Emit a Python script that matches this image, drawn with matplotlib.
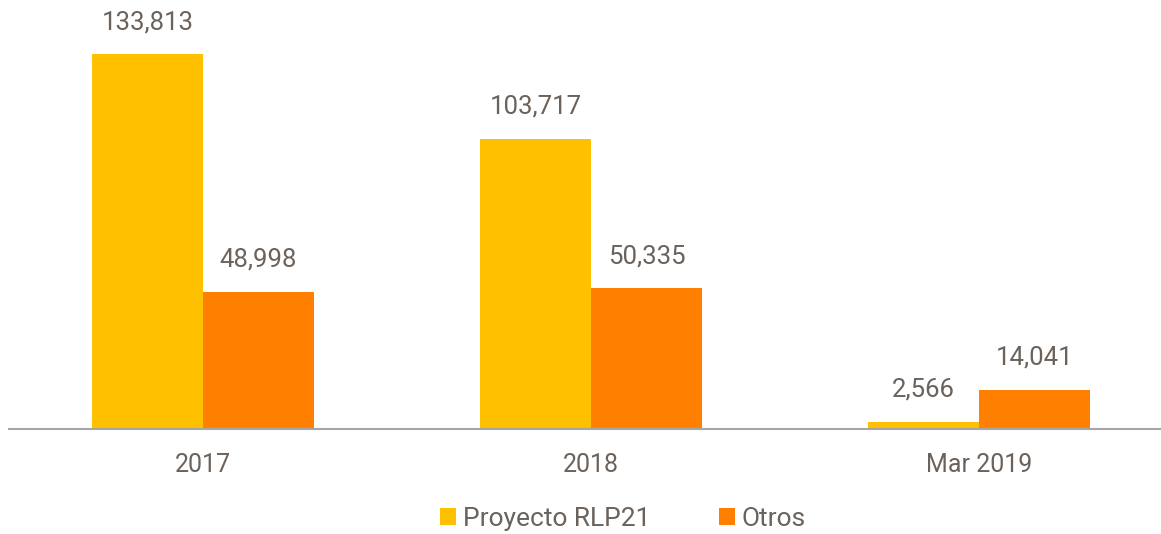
import matplotlib
matplotlib.use("Agg")
import matplotlib.pyplot as plt
import numpy as np

categories = ["2017", "2018", "Mar 2019"]
proyecto = [133813, 103717, 2566]
otros = [48998, 50335, 14041]
series_names = ["Proyecto RLP21", "Otros"]

yellow = "#FFC000"
orange = "#FF8000"
text_color = "#6B625B"

plt.rcParams["font.family"] = ["Roboto", "DejaVu Sans"]

W, H = 1161, 534
fig = plt.figure(figsize=(W / 100, H / 100), dpi=100)
ax = fig.add_axes([9 / W, (H - 429) / H, (1161 - 9) / W, 420 / H])

x = np.arange(len(categories))
bw = 0.286
b1 = ax.bar(x - bw / 2, proyecto, bw, color=yellow, label=series_names[0])
b2 = ax.bar(x + bw / 2, otros, bw, color=orange, label=series_names[1])

for bars, vals in ((b1, proyecto), (b2, otros)):
    for rect, v in zip(bars, vals):
        ax.annotate(f"{v:,}", (rect.get_x() + rect.get_width() / 2, v),
                    xytext=(0, 23), textcoords="offset points",
                    ha="center", va="center", fontsize=18.5, color=text_color)

ax.set_xlim(-0.5, 2.469)
ax.set_ylim(0, 150000)
ax.set_xticks(x)
ax.set_xticklabels(categories, fontsize=18, color=text_color)
ax.tick_params(axis="x", length=0, pad=17)
ax.set_yticks([])
for s in ("top", "right", "left"):
    ax.spines[s].set_visible(False)
ax.spines["bottom"].set_color("#A6A6A6")
ax.spines["bottom"].set_linewidth(1.5)

leg = fig.legend(handles=[b1, b2], loc="center", bbox_to_anchor=(623 / W, (H - 519) / H),
                 ncol=2, frameon=False, fontsize=19, handlelength=0.62, handleheight=0.62,
                 handletextpad=0.25, columnspacing=2.6)
for t in leg.get_texts():
    t.set_color(text_color)

fig.savefig("out.png", dpi=100)
